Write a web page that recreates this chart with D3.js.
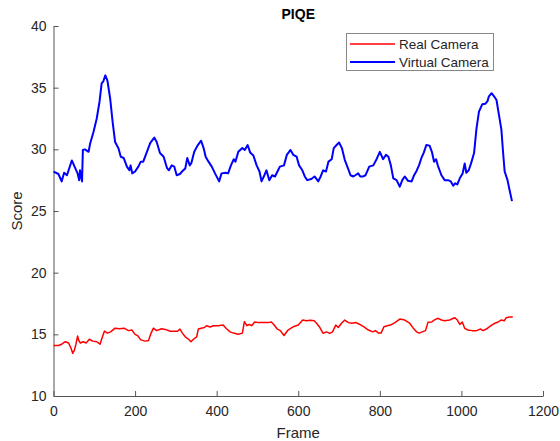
<!DOCTYPE html>
<html>
<head>
<meta charset="utf-8">
<script src="https://cdn.jsdelivr.net/npm/d3@7"></script>
<style>
  body { margin: 0; background: #fff; }
  text { font-family: "Liberation Sans", Arial, sans-serif; fill: #262626; }
</style>
</head>
<body>
<svg id="chart" width="560" height="441"></svg>
<script>
// values
const virtualFrame = [0,12,20,26,33,45,53,59,63,65,70,72,77,86,90,98,106,113,118,122,127,132,139,145,151,159,165,172,180,186,189,193,200,208,214,220,229,237,247,253,261,270,278,283,290,296,302,310,315,323,328,334,338,345,353,362,368,373,380,388,396,406,412,422,428,435,442,446,453,463,469,476,482,490,498,505,510,517,522,529,536,543,549,555,565,572,581,588,596,602,610,616,622,632,640,649,655,661,668,674,682,687,694,700,707,714,722,728,735,740,747,752,759,765,774,784,792,800,808,815,821,827,833,841,849,855,861,869,878,884,890,896,902,908,914,922,928,933,938,942,951,959,967,974,980,985,990,996,1003,1008,1012,1018,1024,1031,1037,1043,1051,1059,1064,1067,1074,1080,1086,1092,1098,1102,1106,1113,1118,1124];
const virtualScore = [28.2,28.0,27.4,28.1,27.9,29.1,28.5,28.05,27.5,28.3,27.4,29.95,30.0,29.8,30.5,31.4,32.5,33.9,35.35,35.5,36.0,35.6,34.1,32.2,30.6,30.1,29.4,29.3,28.6,28.3,28.7,28.05,28.2,28.6,29.0,29.0,29.8,30.5,30.95,30.6,29.7,29.4,28.5,28.3,28.7,28.6,27.9,28.0,28.2,28.45,29.3,28.7,28.9,29.8,30.3,30.7,30.1,29.4,29.0,28.6,28.05,27.4,28.05,28.1,28.05,28.7,29.2,29.0,29.8,30.1,29.95,30.35,29.75,29.5,28.7,28.2,27.4,27.9,28.3,27.5,27.9,27.8,28.2,28.6,28.7,29.55,29.95,29.55,29.4,28.7,28.3,27.8,27.5,27.6,27.8,27.4,27.8,28.3,28.2,29.0,29.2,30.1,30.35,30.55,30.1,29.15,28.45,27.9,27.8,27.9,28.05,27.8,27.8,27.9,28.6,28.7,29.2,29.8,29.2,29.55,29.4,28.7,27.65,27.5,26.97,27.5,27.8,27.45,27.4,27.9,28.25,28.7,29.3,29.75,30.35,30.3,29.75,29.0,29.2,28.7,27.9,27.5,27.5,27.4,27.05,27.25,27.15,27.65,28.05,28.85,28.1,28.3,28.9,29.7,31.7,33.05,33.65,33.7,33.9,34.27,34.55,34.3,34.0,32.8,31.6,29.8,28.2,27.5,26.7,25.8];

const realFrame = [0,12,20,29,37,43,47,51,55,59,62,66,73,80,88,96,106,114,120,125,132,140,151,162,173,184,192,200,206,214,225,233,239,245,253,265,274,286,294,304,310,316,323,331,337,343,351,355,362,370,375,384,392,404,416,424,433,441,453,463,468,474,480,486,493,503,515,526,534,540,548,556,565,575,588,600,611,620,630,639,645,653,661,669,677,684,692,698,706,714,723,731,742,751,761,772,783,789,797,803,810,818,826,837,849,861,873,882,890,896,904,912,918,927,933,943,951,959,971,984,990,996,1002,1008,1016,1026,1037,1047,1053,1061,1074,1082,1090,1097,1105,1110,1118,1126];
const realScore = [14.1,14.1,14.2,14.4,14.3,13.87,13.46,13.7,14.2,14.86,14.5,14.3,14.4,14.3,14.6,14.45,14.4,14.2,14.8,15.27,15.1,15.2,15.5,15.45,15.5,15.3,15.35,15.0,14.9,14.55,14.45,14.5,15.08,15.5,15.3,15.45,15.4,15.25,15.25,15.25,15.43,15.1,14.8,14.6,14.4,14.6,14.8,15.43,15.5,15.55,15.7,15.6,15.7,15.7,15.75,15.45,15.2,15.1,15.0,15.1,16.03,15.7,15.8,15.7,16.0,15.95,15.95,15.95,16.0,15.8,15.45,15.3,14.9,15.35,15.62,15.75,16.16,16.1,16.15,16.1,15.9,15.55,15.08,15.2,15.08,15.2,15.75,15.55,15.9,16.16,15.95,15.9,15.95,15.8,15.6,15.35,15.2,15.3,15.1,15.1,15.62,15.7,15.75,15.95,16.24,16.16,15.9,15.5,15.2,15.1,15.2,15.3,15.97,16.0,16.15,16.3,16.16,16.1,16.16,16.35,16.16,15.8,16.0,15.49,15.35,15.3,15.3,15.43,15.3,15.43,15.75,15.9,16.0,16.16,16.1,16.35,16.4,16.4];

const xTicks = [0, 200, 400, 600, 800, 1000, 1200];
const yTicks = [10, 15, 20, 25, 30, 35, 40];
const seriesNames = ['Real Camera', 'Virtual Camera'];
const seriesColors = ['#ff0000', '#0000ff'];

const svg = d3.select('#chart');
const plotLeft = 53.5, plotRight = 543, plotTop = 26, plotBottom = 396;

const x = d3.scaleLinear().domain([0, 1200]).range([plotLeft, plotRight]);
const y = d3.scaleLinear().domain([10, 40]).range([plotBottom, plotTop]);

// axes, ticks pointing inward like matlab
const xAxis = svg.append('g')
    .attr('transform', `translate(0, ${plotBottom})`)
    .call(d3.axisBottom(x).tickValues(xTicks).tickFormat(d3.format('d'))
      .tickSizeInner(-5).tickSizeOuter(0).tickPadding(10));
const yAxis = svg.append('g')
    .attr('transform', `translate(${plotLeft}, 0)`)
    .call(d3.axisLeft(y).tickValues(yTicks).tickFormat(d3.format('d'))
      .tickSizeInner(-5).tickSizeOuter(0).tickPadding(7));

[xAxis, yAxis].forEach(a => {
  a.select('.domain').attr('stroke', '#555');
  a.selectAll('.tick line').attr('stroke', '#555');
  a.selectAll('.tick text')
      .style('font-family', '"Liberation Sans", Arial, sans-serif')
      .style('font-size', '14px')
      .attr('fill', '#262626');
});

// lines
const line = d3.line().x(d => x(d[0])).y(d => y(d[1]));
const realData = realFrame.map((f, i) => [f, realScore[i]]);
const virtualData = virtualFrame.map((f, i) => [f, virtualScore[i]]);

svg.append('path')
    .datum(realData)
    .attr('d', line)
    .attr('fill', 'none')
    .attr('stroke', seriesColors[0])
    .attr('stroke-width', 1.5)
    .attr('stroke-linejoin', 'round');

svg.append('path')
    .datum(virtualData)
    .attr('d', line)
    .attr('fill', 'none')
    .attr('stroke', seriesColors[1])
    .attr('stroke-width', 2)
    .attr('stroke-linejoin', 'round');

// title and axis labels
svg.append('text')
    .attr('x', (plotLeft + plotRight) / 2)
    .attr('y', 19)
    .attr('text-anchor', 'middle')
    .style('font-size', '14px')
    .style('font-weight', 'bold')
    .style('fill', '#000')
    .text('PIQE');

svg.append('text')
    .attr('x', (plotLeft + plotRight) / 2)
    .attr('y', 438)
    .attr('text-anchor', 'middle')
    .style('font-size', '15px')
    .text('Frame');

svg.append('text')
    .attr('transform', `translate(22, ${(plotTop + plotBottom) / 2}) rotate(-90)`)
    .attr('text-anchor', 'middle')
    .style('font-size', '15px')
    .text('Score');

// legend
const legend = svg.append('g');
legend.append('rect')
    .attr('x', 346.5).attr('y', 33.5)
    .attr('width', 147).attr('height', 37)
    .attr('fill', '#fff')
    .attr('stroke', '#888');

seriesNames.forEach((name, i) => {
  const ly = 44 + i * 18;
  legend.append('line')
      .attr('x1', 350).attr('x2', 395)
      .attr('y1', ly).attr('y2', ly)
      .attr('stroke', seriesColors[i])
      .attr('stroke-width', i === 0 ? 1.5 : 2);
  legend.append('text')
      .attr('x', 399)
      .attr('y', ly + 5)
      .style('font-size', '13.5px')
      .text(name);
});
</script>
</body>
</html>
